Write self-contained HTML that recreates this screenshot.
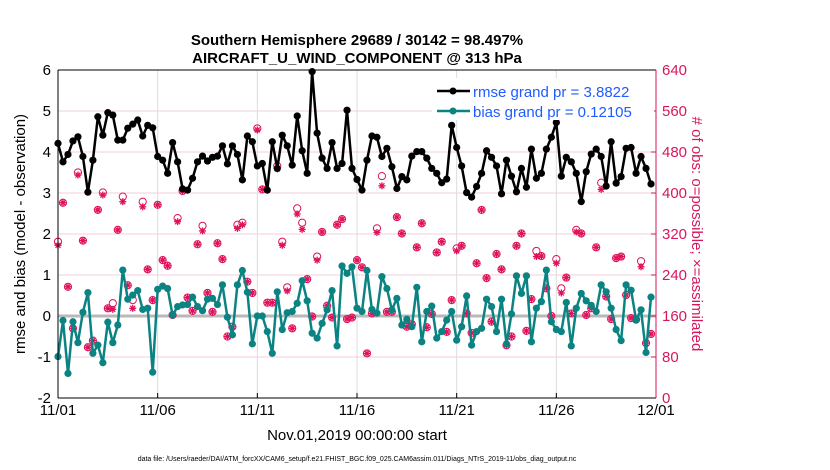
<!DOCTYPE html>
<html><head><meta charset="utf-8"><style>
body{margin:0;background:#fff;}
svg{display:block;font-family:"Liberation Sans",Arial,sans-serif;}
</style></head><body>
<svg id="chart" width="830" height="470" viewBox="0 0 830 470" xmlns="http://www.w3.org/2000/svg">
<rect width="830" height="470" fill="#fff"/>
<text x="357" y="45" text-anchor="middle" font-size="15" font-weight="bold">Southern Hemisphere 29689 / 30142 = 98.497%</text>
<text x="357" y="63" text-anchor="middle" font-size="15" font-weight="bold">AIRCRAFT_U_WIND_COMPONENT @ 313 hPa</text>
<g id="grid"></g>
<g id="marks"></g>
<g id="axes"></g>
<text transform="translate(25,234) rotate(-90)" text-anchor="middle" font-size="15">rmse and bias (model - observation)</text>
<text transform="translate(692,234) rotate(90)" text-anchor="middle" font-size="15" fill="#d6175e">  # of obs: o=possible; ×=assimilated</text>
<text x="357" y="440" text-anchor="middle" font-size="15">Nov.01,2019 00:00:00 start</text>
<text x="357" y="461" text-anchor="middle" font-size="7">data file: /Users/raeder/DAI/ATM_forcXX/CAM6_setup/f.e21.FHIST_BGC.f09_025.CAM6assim.011/Diags_NTrS_2019-11/obs_diag_output.nc</text>
<g>
<rect x="432" y="78" width="222" height="42" fill="#fff"/>
<line x1="437" y1="91" x2="470" y2="91" stroke="#000" stroke-width="2.5"/>
<circle cx="453" cy="91" r="3.5" fill="#000"/>
<text x="473" y="97" font-size="15" fill="#1f5bff">rmse grand pr = 3.8822</text>
<line x1="437" y1="111" x2="470" y2="111" stroke="#0b8383" stroke-width="2.5"/>
<circle cx="453" cy="111" r="3.5" fill="#0b8383"/>
<text x="473" y="117" font-size="15" fill="#1f5bff">bias grand pr = 0.12105</text>
</g>
</svg>
<script>
const rmse=[4.21,3.76,3.94,4.27,4.37,3.89,3.02,3.80,4.86,4.41,4.96,4.90,4.29,4.29,4.58,4.68,4.78,4.39,4.65,4.59,3.89,3.80,3.48,4.23,3.76,3.10,3.07,3.36,3.76,3.90,3.78,3.87,3.90,4.15,3.71,4.15,3.94,3.32,4.39,4.25,
3.66,3.72,3.07,4.25,3.60,4.41,4.15,3.68,4.88,4.03,3.48,5.96,4.46,3.85,3.60,4.23,3.60,3.72,5.02,3.60,3.33,3.07,3.80,4.39,4.36,3.89,4.09,3.64,3.11,3.40,3.32,3.90,4.01,4.01,3.85,3.60,3.48,3.25,
3.34,4.65,4.11,3.66,3.01,2.90,3.16,3.48,4.03,3.87,3.66,2.98,3.80,3.41,3.03,3.60,3.14,4.07,3.36,3.48,4.07,4.36,4.72,3.41,3.87,3.76,3.48,2.79,3.52,3.95,4.07,3.89,3.17,4.25,3.24,3.40,4.09,4.11,3.48,3.89,3.60,3.22];
const bias=[-0.99,-0.11,-1.40,-0.14,-0.65,0.09,0.57,-0.91,-0.71,-1.14,-0.15,-0.65,-0.22,1.12,0.41,0.51,0.62,0.16,0.19,-1.37,0.65,0.73,0.67,0.02,0.23,0.27,0.28,0.46,0.23,0.13,0.41,0.43,0.28,0.76,-0.03,-0.46,0.76,1.11,0.58,-0.68,
0,0,-0.38,-0.91,0.59,-0.33,0.08,0.11,0.31,0.86,0.37,-0.42,-0.54,-0.18,0.15,0.62,-0.73,1.22,1.04,1.20,0.19,0.11,1.11,0.16,0.07,0.96,0.67,0.15,0.43,-0.22,-0.08,-0.26,0.70,-0.63,0.11,0.24,-0.54,-0.38,
-0.10,0.11,-0.59,-0.26,0.49,-0.71,-0.38,-0.30,0.41,0.23,-0.38,0.41,-0.68,0.05,0.98,0.55,0.98,-0.63,0.19,0.35,1.12,-0.14,-0.33,-0.38,0.33,-0.73,0.19,0.55,0.37,0.26,0.11,0.76,0.59,0.19,-0.33,-0.60,0.76,0.63,-0.10,0.15,-0.89,0.46];
const nPossible=[305,381,217,136,440,307,99,112,367,401,175,185,328,393,220,191,null,383,251,191,377,269,258,162,351,404,196,170,300,336,205,168,302,271,120,139,338,342,227,205,
526,407,186,186,453,305,216,136,370,342,232,159,276,324,180,157,338,349,154,157,269,255,87,165,331,433,168,168,353,321,139,144,294,341,138,164,284,305,
129,191,292,297,165,127,263,367,234,149,281,251,103,120,297,321,131,193,287,277,214,160,271,214,235,165,328,321,162,175,294,420,198,154,273,276,201,156,153,267,107,125];
const nAssim=[298,381,217,136,435,307,99,112,367,396,175,173,328,383,220,175,null,373,251,191,377,269,258,162,344,404,196,170,300,326,205,168,302,271,120,139,331,338,227,205,
523,407,186,186,447,298,209,136,359,329,232,159,269,324,180,157,338,349,154,157,269,255,87,165,323,414,168,168,353,321,139,144,294,341,138,164,284,305,
129,191,287,297,165,127,263,367,234,149,281,251,103,120,297,321,131,193,276,277,214,160,263,205,235,165,324,321,162,175,294,407,198,154,273,276,201,156,153,256,107,125];
const xTickLabels=["11/01","11/06","11/11","11/16","11/21","11/26","12/01"];
const xTickDays=[0,5,10,15,20,25,30];
const yTicks=[-2,-1,0,1,2,3,4,5,6];
const rTicks=[0,80,160,240,320,400,480,560,640];

const X0=58,X1=656,Y0=70,Y1=398;
const xS=d=>X0+d*(X1-X0)/30;
const yS=v=>Y1-(v+2)*(Y1-Y0)/8;
const rS=v=>Y1-v*(Y1-Y0)/640;
const NS="http://www.w3.org/2000/svg";
function mk(tag,attrs,parent){const e=document.createElementNS(NS,tag);for(const k in attrs)e.setAttribute(k,attrs[k]);parent.appendChild(e);return e;}
const grid=document.getElementById('grid'),marks=document.getElementById('marks'),axes=document.getElementById('axes');

xTickDays.forEach((d,i)=>{
  if(d>0&&d<30){const l=mk('line',{x1:xS(d),x2:xS(d),y1:Y0,y2:Y1,stroke:'#dcdcdc','stroke-width':1},grid);
  
  }
  const t=mk('text',{x:xS(d),y:Y1+17,'text-anchor':'middle','font-size':15},axes);t.textContent=xTickLabels[i];
  
  
  mk('line',{x1:xS(d),x2:xS(d),y1:Y1,y2:Y1-5,stroke:'#000'},axes);
});
yTicks.forEach(v=>{
  if(v>-2&&v<6){const l=mk('line',{x1:X0,x2:X1,y1:yS(v),y2:yS(v),stroke:'#f2cfdc','stroke-width':1},grid);
  
  }
  const t=mk('text',{x:X0-7,y:yS(v)+5,'text-anchor':'end','font-size':15},axes);t.textContent=v;
  
  
});
rTicks.forEach(v=>{
  const t=mk('text',{x:X1+6,y:rS(v)+5,'font-size':15,fill:'#d6175e'},axes);t.textContent=v;
  
  
  mk('line',{x1:X1,x2:X1-5,y1:rS(v),y2:rS(v),stroke:'#d6175e'},axes);
});
const zl=mk('line',{x1:X0,x2:X1,y1:yS(0),y2:yS(0),stroke:'#b8b8b8','stroke-width':3},grid);



// obs counts
nPossible.forEach((v,i)=>{
  if(v==null)return;
  const c=mk('circle',{cx:xS(i/4),cy:rS(v),r:3.6,fill:'none',stroke:'#e0105a','stroke-width':1},marks);
  
  
});
nAssim.forEach((v,i)=>{
  if(v==null)return;
  const x=xS(i/4),y=rS(v);
  const g=mk('g',{stroke:'#e0105a','stroke-width':1.3},marks);
  
  
  for(let a=0;a<4;a++){const ang=a*Math.PI/4;mk('line',{x1:x-3.5*Math.cos(ang),y1:y-3.5*Math.sin(ang),x2:x+3.5*Math.cos(ang),y2:y+3.5*Math.sin(ang)},g);}
});
function series(arr,col,name){
  const p=arr.map((v,i)=>(i?'L':'M')+xS(i/4).toFixed(1)+','+yS(v).toFixed(1)).join('');
  const path=mk('path',{d:p,fill:'none',stroke:col,'stroke-width':2.5,'stroke-linejoin':'round'},marks);
  
  
  arr.forEach((v,i)=>{const c=mk('circle',{cx:xS(i/4),cy:yS(v),r:3.6,fill:col},marks);
    
    });
}
series(bias,'#0b8383','bias');
series(rmse,'#000','rmse');

mk('line',{x1:X0,x2:X1,y1:Y0,y2:Y0,stroke:'#000','stroke-width':1},axes);
mk('line',{x1:X0,x2:X1,y1:Y1,y2:Y1,stroke:'#000','stroke-width':1},axes);
mk('line',{x1:X0,x2:X0,y1:Y0,y2:Y1,stroke:'#000','stroke-width':1},axes);
mk('line',{x1:X1,x2:X1,y1:Y0,y2:Y1,stroke:'#d6175e','stroke-width':1},axes);
</script>
</body></html>
